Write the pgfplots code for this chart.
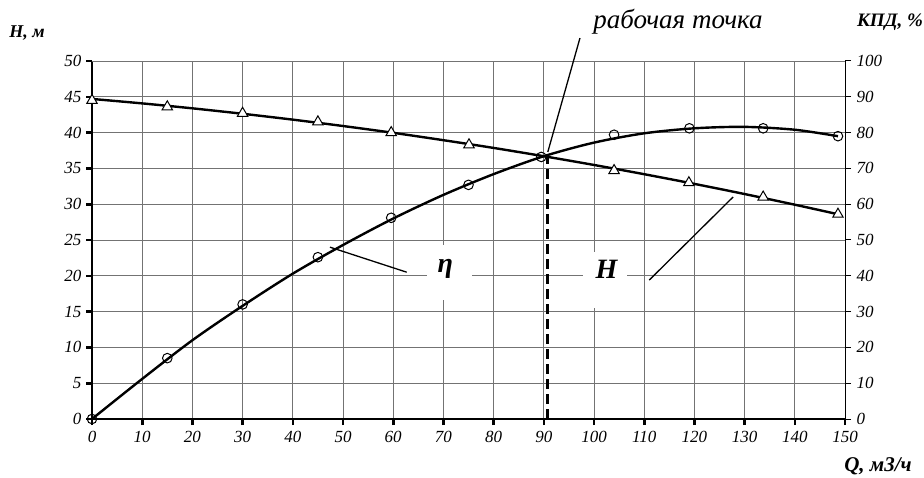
\documentclass[border=0pt]{standalone}
\usepackage{pgfplots}
\pgfplotsset{compat=1.18}
\usepackage{fontspec}
\setmainfont{Liberation Serif}
\begin{document}
\begin{tikzpicture}[x=1pt,y=1pt]
\useasboundingbox (0,0) rectangle (924,477);
\pgfplotsset{
  common/.style={
    at={(92pt,58pt)}, anchor=south west,
    width=753pt, height=358pt, scale only axis,
    xmin=0, xmax=150,
    tick align=outside,
    major tick length=6pt,
    /pgf/number format/assume math mode=true,
    xticklabel={\itshape\pgfmathprintnumber[assume math mode=true]{\tick}},
    yticklabel={\itshape\pgfmathprintnumber[assume math mode=true]{\tick}},
    ticklabel style={font=\itshape\fontsize{17}{17}\selectfont},
  }
}
\begin{axis}[common,
  ymin=0, ymax=50,
  xtick distance=10, ytick distance=5,
  axis x line*=bottom, axis y line*=left,
  axis line style={line width=2.6pt,-},
  tick style={black, line width=2.6pt},
  grid=major,
  major grid style={black!55, line width=0.9pt},
  clip=false,
  xticklabel style={yshift=-3pt},
  yticklabel style={xshift=-1pt},
]
% top gridline
\draw[black!55, line width=0.9pt] (axis cs:0,50) -- (axis cs:150,50);
% white label boxes
\node[fill=white, minimum width=45pt, minimum height=55pt, inner sep=0] at (axis cs:71.3,20.5) {};
\node[fill=white, minimum width=44pt, minimum height=56pt, inner sep=0] at (axis cs:102.2,19.4) {};
\node at (axis cs:70.4,20.9) {\fontsize{28}{28}\selectfont\bfseries\itshape η};
\node at (axis cs:102.5,20.9) {\fontsize{28}{28}\selectfont\bfseries\itshape H};
% pointer lines
\draw[line width=1.3pt] (axis cs:62.7,20.5) -- (axis cs:47.4,24.0);
\draw[line width=1.3pt] (axis cs:111,19.4) -- (axis cs:127.7,31.0);
\draw[line width=1.3pt] (axis cs:97.2,53.2) -- (axis cs:90.8,37.3);
% dashed working-point line
\addplot[line width=3pt, dash pattern=on 10pt off 5pt] coordinates {(90.7,0) (90.7,36.7)};
% H curve
\addplot[line width=2.4pt, smooth] coordinates {
(0,44.7) (10,44.08) (20,43.39) (30,42.63) (40,41.81) (50,40.92) (60,39.97)
(70,38.94) (80,37.86) (90,36.7) (100,35.48) (110,34.19) (120,32.84)
(130,31.42) (140,29.93) (148.6,28.6)};
% eta curve (in H scale = percent/2)
\addplot[line width=2.4pt, smooth] coordinates {
(0,0) (10,5.6) (20,11.0) (30,15.8) (40,20.3) (50,24.3) (60,28.0) (70,31.3)
(80,34.2) (90,36.7) (100,38.6) (110,39.9) (120,40.6) (130,40.8) (140,40.4) (148.6,39.5)};
% H points
\addplot[only marks, mark=triangle*, mark size=6pt, mark options={fill=white, draw=black, line width=1pt}] coordinates {
(0,44.5) (15,43.6) (30,42.7) (45,41.5) (59.6,40.0) (75.1,38.3) (104,34.7) (118.9,33.0) (133.7,31.0) (148.6,28.6)};
% eta points
\addplot[only marks, mark=o, mark size=4.8pt, mark options={draw=black, line width=1pt}] coordinates {
(0,0) (15,8.5) (30,16.0) (45,22.6) (59.6,28.1) (75,32.7) (89.5,36.6) (104,39.7) (119,40.6) (133.7,40.6) (148.6,39.5)};
\end{axis}
\begin{axis}[common,
  ymin=0, ymax=100, ytick distance=10,
  axis x line=none, axis y line*=right,
  axis line style={line width=1pt,-},
  tick style={black, line width=1pt},
  yticklabel style={xshift=2pt},
]
\end{axis}
\node at (27,444) {\fontsize{18}{18}\selectfont\bfseries\itshape H, м};
\node at (890,455) {\fontsize{19}{19}\selectfont\bfseries\itshape КПД, \%};
\node at (878,11) {\fontsize{21}{21}\selectfont\bfseries\itshape Q, м3/ч};
\node at (678,455) {\fontsize{27}{27}\selectfont\itshape рабочая точка};
\end{tikzpicture}
\end{document}
